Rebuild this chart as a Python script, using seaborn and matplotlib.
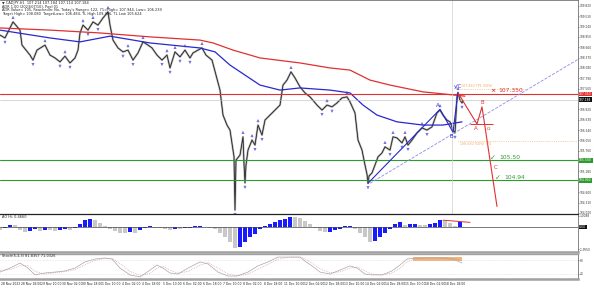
import numpy as np
import pandas as pd
import matplotlib
matplotlib.use("Agg")
import matplotlib.pyplot as plt
import matplotlib.transforms as mtrans
import seaborn as sns

# ---------------- data ----------------
bars = [0,5,13,20,22,30,33,37,45,50,55,60,65,70,75,78,80,83,88,93,
        98,103,108,110,113,118,123,128,133,138,143,148,152,157,162,167,170,175,180,185,
        190,193,198,202,206,212,216,220,223,227,230,233,234,235,236,240,243,244,245,246,
        248,252,255,258,262,265,270,275,280,283,287,291,295,300,305,310,317,322,327,332,
        337,342,347,350,355,358,362,365,367,368,369,372,375,378,382,385,390,393,397,402,
        405,408,412,417,422,427,432,437,440,443,447,450,453,455,457,458,460,462,463]
close = [109.00,108.92,109.37,109.14,108.72,108.44,108.30,108.58,108.72,108.44,
         108.36,108.25,108.41,108.22,108.36,108.58,109.06,109.28,109.14,109.37,
         109.28,109.48,109.65,109.28,108.86,108.64,108.53,108.58,108.30,108.50,
         108.81,108.72,108.64,108.44,108.30,108.44,108.08,108.53,108.39,108.58,
         108.36,108.50,108.58,108.64,108.44,108.30,107.88,107.46,106.76,106.48,
         106.34,105.78,105.60,104.10,105.50,105.64,106.15,105.40,104.86,105.36,
         105.78,106.06,105.92,106.48,106.20,106.62,106.76,106.90,107.04,107.60,
         107.74,107.97,107.80,107.55,107.38,107.27,107.04,106.90,107.04,106.99,
         107.10,107.24,107.27,107.13,106.82,106.06,105.78,105.36,105.10,104.85,
         105.05,105.14,105.36,105.59,105.70,105.87,105.78,106.15,106.12,105.98,
         106.15,105.92,106.06,106.26,106.40,106.34,106.43,106.82,106.90,106.76,
         106.62,106.57,106.34,106.26,107.27,107.38,107.18,107.10,107.15]

ma_slow_x = [0,50,100,150,200,213,233,260,300,330,350,370,390,423,465]
ma_slow = [109.20,109.14,109.06,108.95,108.86,108.78,108.58,108.36,108.22,108.08,108.02,107.74,107.60,107.41,107.29]
ma_fast_x = [0,50,80,110,150,200,215,230,260,280,300,330,350,363,377,397,423,443,462]
ma_fast = [109.14,108.92,108.81,108.97,108.78,108.64,108.53,108.16,107.60,107.46,107.52,107.46,107.38,107.04,106.76,106.57,106.48,106.48,106.57]

level_red = 107.350
level_last = 107.184
level_green = [105.500, 104.940]
target_hi = 107.49
target_lo = 106.03

wave_x = [368, 440, 453, 458]
wave_y = [104.85, 106.92, 106.28, 107.40]
chan_x = [370, 578]
chan_y = [104.85, 108.32]
proj_x = [458, 477, 482, 497]
proj_y = [107.38, 106.51, 106.99, 104.20]

price_ticks = [104.02,104.31,104.60,105.18,105.76,106.05,106.34,106.63,
               106.92,107.50,107.79,108.08,108.37,108.66,108.95,109.24,109.53,109.82]

ao_x = list(range(0, 461, 5))
ao = [-0.25,-0.1,0.2,0.15,-0.3,-0.45,-0.35,-0.2,-0.35,-0.25,
      -0.3,-0.4,-0.3,-0.2,-0.25,-0.1,0.3,0.65,0.72,0.6,
      0.35,0.1,-0.2,-0.4,-0.5,-0.55,-0.45,-0.5,-0.3,-0.1,
      0.05,-0.05,-0.1,-0.2,-0.25,-0.15,-0.2,-0.1,-0.05,0.05,
      0.1,0.02,-0.05,-0.2,-0.55,-0.95,-1.4,-1.95,-1.8,-1.35,
      -0.95,-0.6,-0.2,0.1,0.3,0.45,0.6,0.75,0.92,0.9,
      0.82,0.55,0.25,-0.1,-0.35,-0.48,-0.45,-0.3,-0.15,0.08,
      0.1,-0.2,-0.5,-0.9,-1.35,-1.3,-0.9,-0.5,-0.15,0.3,
      0.42,0.2,0.28,0.3,0.2,0.15,0.3,0.4,0.6,0.5,
      0.36,0.12,0.42]
ao_div_x = [443, 470]
ao_div_y = [0.62, 0.42]

st_x = [0,10,20,28,35,45,55,65,75,85,95,105,112,120,130,140,150,157,163,170,
        178,188,200,208,218,228,237,248,258,268,278,290,300,305,312,320,330,340,350,357,
        365,372,382,392,400,407,415,430,445,455,462]
st_main = [27,45,68,45,14,23,27,32,45,73,86,91,86,45,14,5,36,59,45,23,
           18,45,73,64,27,9,9,27,55,73,95,95,95,77,55,27,18,36,55,45,
           18,14,14,32,59,86,91,91,91,82,68]
st_sig = [35,38,55,58,30,18,24,29,38,60,80,89,89,65,30,12,20,45,52,35,
          22,30,58,70,45,18,10,18,40,62,85,95,95,88,68,42,24,28,45,50,
          32,18,14,22,45,72,88,91,91,88,78]
zone_x = [413, 462]
zone_y = [77, 95]

time_pos = [0,20,40,61,81,101,121,141,162,182,202,222,242,263,283,303,323,343,364,384,404,424,444]
time_labels = ["28 Nov 2023","28 Nov 18:00","29 Nov 10:00","30 Nov 02:00","30 Nov 18:00",
               "1 Dec 10:00","4 Dec 02:00","4 Dec 18:00","5 Dec 10:00","6 Dec 02:00",
               "6 Dec 18:00","7 Dec 10:00","8 Dec 02:00","8 Dec 18:00","11 Dec 10:00",
               "12 Dec 02:00","12 Dec 18:00","13 Dec 10:00","14 Dec 02:00","14 Dec 18:00",
               "15 Dec 10:00","18 Dec 02:00","18 Dec 18:00"]

# ---------------- style ----------------
sns.set_theme(style="white")
plt.rcParams['font.family'] = ['DejaVu Sans']

RED = '#e03030'
GREEN = '#2e9b2e'
BLUE = '#2828d0'
ORANGE = '#f0a860'

fig = plt.figure(figsize=(5.94, 2.88), dpi=100)
W = 578 / 594
ax = fig.add_axes([0, (288 - 214) / 288, W, 214 / 288])
ax2 = fig.add_axes([0, (288 - 252) / 288, W, 38 / 288])
ax3 = fig.add_axes([0, (288 - 279) / 288, W, 25 / 288])

for a in (ax, ax2, ax3):
    a.set_xlim(0, 578)
    a.set_facecolor('white')
    a.set_xticks([])
    a.yaxis.tick_right()
    a.tick_params(axis='y', labelsize=2.1, length=1.0, width=0.4, pad=0.5, colors='#333')
    for s in a.spines.values():
        s.set_linewidth(0.5)
        s.set_color('#555')
    a.spines['left'].set_visible(False)

# ---------------- main panel ----------------
ax.set_ylim(103.989, 109.983)
df = pd.DataFrame({'bar': bars, 'close': close})
sns.lineplot(data=df, x='bar', y='close', ax=ax, color='#b4b4b4', lw=1.5, sort=False, estimator=None)
sns.lineplot(data=df, x='bar', y='close', ax=ax, color='#1a1a1a', lw=0.55, sort=False, estimator=None)
sns.lineplot(x=ma_slow_x, y=ma_slow, ax=ax, color=RED, lw=0.9, sort=False, estimator=None)
sns.lineplot(x=ma_fast_x, y=ma_fast, ax=ax, color=BLUE, lw=0.9, sort=False, estimator=None)

# fractal markers from local extremes of the price series
c = np.array(close)
b = np.array(bars)
up = [i for i in range(1, len(c) - 1) if c[i] > c[i - 1] and c[i] > c[i + 1]]
dn = [i for i in range(1, len(c) - 1) if c[i] < c[i - 1] and c[i] < c[i + 1]]
ax.scatter(b[up], c[up] + 0.12, marker='^', s=2.5, facecolors='none', edgecolors='#4040d8', linewidths=0.4, zorder=5)
ax.scatter(b[dn], c[dn] - 0.12, marker='v', s=2.5, facecolors='none', edgecolors='#4040d8', linewidths=0.4, zorder=5)

ax.axhline(level_red, color=RED, lw=0.8)
ax.axhline(level_last, color='#bbbbbb', lw=0.4)
for g in level_green:
    ax.axhline(g, color=GREEN, lw=0.8)
ax.axvline(452, color='#d0d0d0', lw=0.5)

ax.hlines(target_hi, 458, 525, colors=ORANGE, lw=0.5, linestyles=':')
ax.hlines(target_lo, 458, 578, colors=ORANGE, lw=0.5, linestyles=':')
ax.text(461, target_hi + 0.02, "107.490 TP1 (50%)", color=ORANGE, fontsize=2.3, va='bottom')
ax.text(460, target_lo - 0.02, "106.030 (50%) TP2", color=ORANGE, fontsize=2.3, va='top')

sns.lineplot(x=wave_x, y=wave_y, ax=ax, color=BLUE, lw=0.8, sort=False, estimator=None)
sns.lineplot(x=chan_x, y=chan_y, ax=ax, color='#8c8ce8', lw=0.6, linestyle='--', sort=False, estimator=None)
ax.text(wave_x[1] - 2, wave_y[1] + 0.05, "A", color=BLUE, fontsize=4, ha='center', va='bottom')
ax.text(wave_x[2] - 2, wave_y[2] - 0.05, "B", color=BLUE, fontsize=4, ha='center', va='top')
ax.text(wave_x[3], wave_y[3] + 0.08, "y/C", color=BLUE, fontsize=3.6, ha='center', va='bottom')

sns.lineplot(x=proj_x, y=proj_y, ax=ax, color=RED, lw=0.8, sort=False, estimator=None)
ax.hlines(proj_y[1], 470, 493, colors=RED, lw=0.7)
ax.text(proj_x[1] - 1, proj_y[1] - 0.07, "A", color=RED, fontsize=4, ha='center', va='top')
ax.text(proj_x[2], proj_y[2] + 0.05, "B", color=RED, fontsize=4, ha='center', va='bottom')
ax.text(proj_x[2] + 6, proj_y[1] - 0.08, "Ω", color=RED, fontsize=3.2, ha='center', va='top')
ax.text(494, 105.28, "C", color=RED, fontsize=4, ha='left', va='center')
ax.text(493, level_red + 0.02, "×", color=RED, fontsize=4.5, ha='center', va='bottom', fontweight='bold')
ax.text(498, level_red + 0.02, "107.350", color=RED, fontsize=4.3, ha='left', va='bottom')
ax.text(490, 105.55, "✓", color=GREEN, fontsize=5, ha='left', va='center')
ax.text(499, 105.58, "105.50", color=GREEN, fontsize=4.3, ha='left', va='center')
ax.text(495, 105.00, "✓", color=GREEN, fontsize=5, ha='left', va='center')
ax.text(504, 105.02, "104.94", color=GREEN, fontsize=4.3, ha='left', va='center')

ax.set_yticks(price_ticks)
ax.set_yticklabels([f"{t:.3f}" for t in price_ticks])
ax.set_xlabel(""); ax.set_ylabel("")

tr = mtrans.blended_transform_factory(ax.transAxes, ax.transData)
for val, fc, txt in [(level_red, RED, "107.350"), (level_last, '#111111', "107.184"),
                     (level_green[0], GREEN, "105.500"), (level_green[1], GREEN, "104.940")]:
    ax.text(1.002, val, txt, transform=tr, fontsize=2.2, color='white', ha='left', va='center',
            bbox=dict(fc=fc, ec='none', pad=0.35), clip_on=False, zorder=10)

header = ["▼ CADJPY,H1  107.214 107.184 107.114 107.184",
          "ADR 1.00 (2023/07/10), Pool 01",
          "ADR Value= 105, ReachedIn: No, Today's Range= 122, 71=High= 107.944, Low= 106.239",
          "Target High= 108.080  TargetLow= 106.484, TL High 109.366, TL Low 105.624"]
for i, line in enumerate(header):
    ax.text(0.004, 1 - (3 + 3.6 * i) / 214, line, transform=ax.transAxes, fontsize=2.5,
            color='#222', ha='left', va='center')

# ---------------- AO panel ----------------
ax2.set_ylim(-2.27, 1.18)
ao_cols = ['#c8c8c8'] + ['#1a1aff' if ao[i] > ao[i - 1] else '#c8c8c8' for i in range(1, len(ao))]
ax2.bar(ao_x, ao, width=4.8, color=ao_cols, edgecolor='none')
ax2.axhline(0, color='#444', lw=0.5)
sns.lineplot(x=ao_div_x, y=ao_div_y, ax=ax2, color=RED, lw=0.7, sort=False, estimator=None)
ax2.set_yticks([1.0, -2.0])
ax2.set_yticklabels(["1.0088", "-1.9550"])
ax2.spines['top'].set_color('#222'); ax2.spines['top'].set_linewidth(0.9)
ax2.spines['bottom'].set_color('#a0a0a0'); ax2.spines['bottom'].set_linewidth(1.8)
ax2.text(2, 0.95, "AO Hi: 0.4660", fontsize=2.5, color='#222', ha='left', va='center')
tr2 = mtrans.blended_transform_factory(ax2.transAxes, ax2.transData)
ax2.text(1.002, 0, "0.00", transform=tr2, fontsize=2.2, color='white', ha='left', va='center',
         bbox=dict(fc='#111', ec='none', pad=0.35), clip_on=False)
ax2.set_xlabel(""); ax2.set_ylabel("")

# ---------------- Stoch panel ----------------
ax3.set_ylim(-4.5, 109)
ax3.fill_between(zone_x, zone_y[0], zone_y[1], color=ORANGE, alpha=0.85, lw=0)
ax3.axhline(80, color='#cccccc', lw=0.4, ls=':')
ax3.axhline(20, color='#cccccc', lw=0.4, ls=':')
sns.lineplot(x=st_x, y=st_main, ax=ax3, color='#a8a8a8', lw=0.5, sort=False, estimator=None)
sns.lineplot(x=st_x, y=st_sig, ax=ax3, color='#d88888', lw=0.5, linestyle=':', sort=False, estimator=None)
ax3.set_yticks([80, 20])
ax3.set_yticklabels(["80", "20"])
ax3.spines['top'].set_color('#a0a0a0'); ax3.spines['top'].set_linewidth(1.0)
ax3.spines['bottom'].set_color('#a0a0a0'); ax3.spines['bottom'].set_linewidth(1.8)
ax3.text(2, 100, "Stoch(5,3,3) 81.8357 71.0326", fontsize=2.5, color='#222', ha='left', va='center')
ax3.set_xlabel(""); ax3.set_ylabel("")

tr3 = mtrans.blended_transform_factory(ax3.transData, ax3.transAxes)
for p, lab in zip(time_pos, time_labels):
    ax3.text(p + 1, -0.2, lab, transform=tr3, fontsize=2.2, color='#222', ha='left', va='center', clip_on=False)

fig.savefig("out.png", dpi=100)
